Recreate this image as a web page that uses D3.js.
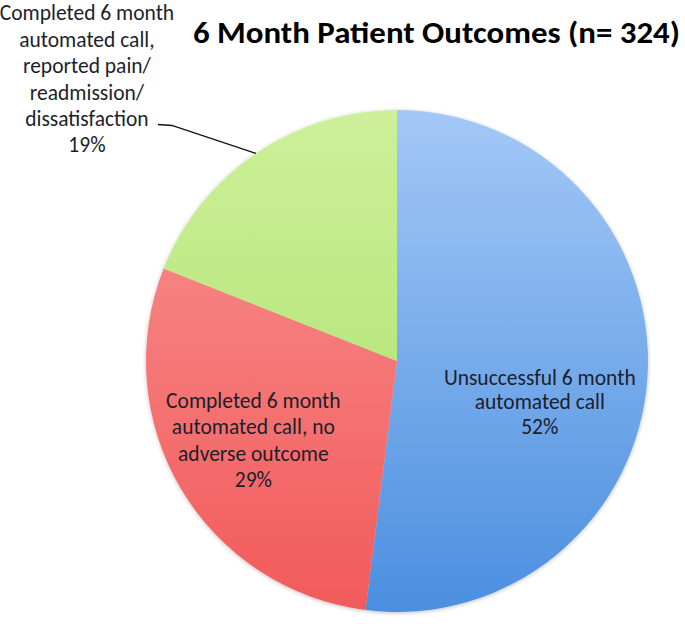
<!DOCTYPE html>
<html><head><meta charset="utf-8">
<script src="https://cdn.jsdelivr.net/npm/d3@7"></script>
<style>body{margin:0;background:#fff}svg{display:block}</style>
</head><body><svg id="c" width="685" height="624"></svg>
<script>
const categories = ["Unsuccessful 6 month automated call", "Completed 6 month automated call, no adverse outcome", "Completed 6 month automated call, reported pain/ readmission/ dissatisfaction"];
const values = [52, 29, 19];
const labelLines = [
  ["Unsuccessful 6 month", "automated call"],
  ["Completed 6 month", "automated call, no", "adverse outcome"],
  ["Completed 6 month", "automated call,", "reported pain/", "readmission/", "dissatisfaction"]
];
const title = "6 Month Patient Outcomes (n= 324)";

const svg = d3.select("#c");
const cx = 397, cy = 361, R = 251;
const grads = [["#a3c8f6", "#4b8fe0"], ["#f99494", "#f25a5a"], ["#cdf09a", "#a6df62"]];
const defs = svg.append("defs");
grads.forEach((g, i) => {
  const lg = defs.append("linearGradient").attr("id", "g" + i)
    .attr("gradientUnits", "userSpaceOnUse")
    .attr("x1", 0).attr("y1", -R).attr("x2", 0).attr("y2", R);
  lg.append("stop").attr("offset", "0%").attr("stop-color", g[0]);
  lg.append("stop").attr("offset", "100%").attr("stop-color", g[1]);
});
const f = defs.append("filter").attr("id", "sh").attr("x", "-10%").attr("y", "-10%").attr("width", "120%").attr("height", "120%");
f.append("feGaussianBlur").attr("in", "SourceAlpha").attr("stdDeviation", 2).attr("result", "b");
f.append("feOffset").attr("in", "b").attr("dx", 0).attr("dy", 1).attr("result", "o");
f.append("feComponentTransfer").attr("in", "o").attr("result", "o2").append("feFuncA").attr("type", "linear").attr("slope", 0.25);
const m = f.append("feMerge"); m.append("feMergeNode").attr("in", "o2"); m.append("feMergeNode").attr("in", "SourceGraphic");

const pie = d3.pie().sort(null).value(d => d)(values);
const arc = d3.arc().innerRadius(0).outerRadius(R);
const g = svg.append("g").attr("transform", `translate(${cx},${cy})`);
g.append("g").attr("filter", "url(#sh)").selectAll("path").data(pie).join("path")
  .attr("d", arc).attr("fill", (d, i) => `url(#g${i})`);

const font = "Calibri, Carlito, Lato, 'Open Sans', sans-serif";
const fs = 21.5, txtCol = "#1c1f2a";
// inside labels: radius factor, first-baseline offset, line pitch
const insideR = [0.57, 0.665];
const insideDy = [15, -38];
const insidePitch = [24.5, 26.3];
[0, 1].forEach(i => {
  const a = (pie[i].startAngle + pie[i].endAngle) / 2;
  const x = Math.sin(a) * R * insideR[i], y = -Math.cos(a) * R * insideR[i] + insideDy[i];
  const lines = labelLines[i].concat([values[i] + "%"]);
  const t = g.append("text").attr("text-anchor", "middle").attr("font-family", font).attr("font-size", fs).attr("fill", txtCol);
  lines.forEach((l, k) => t.append("tspan").attr("x", x).attr("y", y + k * insidePitch[i]).text(l));
});
// outside label for green slice
{
  const i = 2;
  const a = (pie[i].startAngle + pie[i].endAngle) / 2;
  const ex = Math.sin(a) * R, ey = -Math.cos(a) * R;
  const lines = labelLines[i].concat([values[i] + "%"]);
  const tx = ex - 169, ty0 = ey - 133;
  const t = g.append("text").attr("text-anchor", "middle").attr("font-family", font).attr("font-size", fs).attr("fill", txtCol);
  lines.forEach((l, k) => t.append("tspan").attr("x", tx).attr("y", ty0 + k * 26.4).text(l));
  g.append("polyline").attr("points", [[ex, ey], [ex - 84, ey - 28], [ex - 98, ey - 29]].map(p => p.join(",")).join(" "))
    .attr("fill", "none").attr("stroke", "#111").attr("stroke-width", 1.5);
}
svg.append("text").attr("x", 193).attr("y", 43)
  .attr("textLength", 487).attr("lengthAdjust", "spacingAndGlyphs")
  .attr("font-family", font).attr("font-weight", "bold").attr("font-size", 30).attr("fill", "#000").text(title);
</script></body></html>
